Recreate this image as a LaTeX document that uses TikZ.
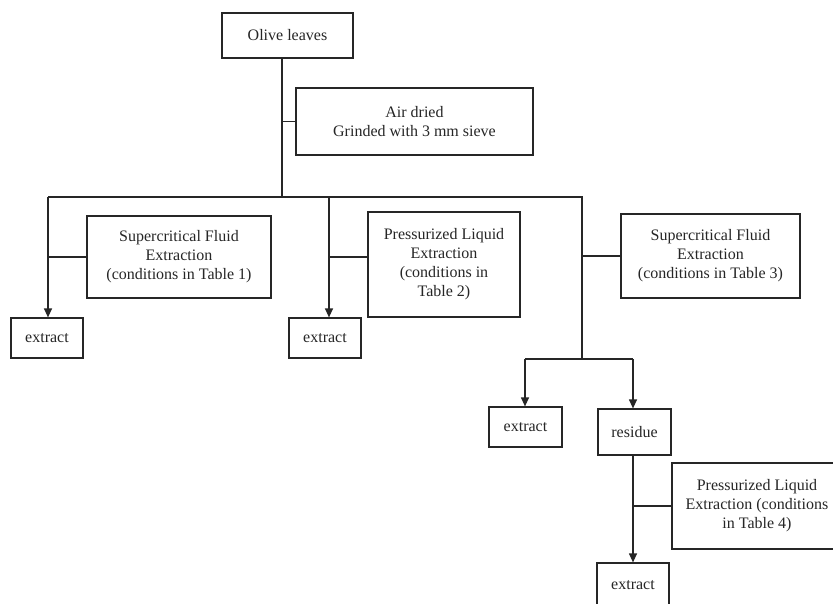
\documentclass[tikz,border=0pt]{standalone}
\usepackage{fontspec}
\setmainfont{Liberation Serif}
\usetikzlibrary{arrows.meta}
\begin{document}
\begin{tikzpicture}[x=1pt,y=-1pt,
  line width=1.2pt,
  lnk/.style={draw=black!85},
  box/.style={draw=black!85,line width=1.2pt,rectangle,inner sep=0pt,align=center,
    font=\fontsize{16}{19}\selectfont,text=black!85},
  arr/.style={lnk,-{Triangle[width=8pt,length=9pt]}}]
\useasboundingbox (0,0) rectangle (833,604);
\clip (0,0) rectangle (833,604);
\fill[white] (0,0) rectangle (833,604);
\node[box,minimum width=131pt,minimum height=45pt] (olive) at (287.5,35.5) {Olive leaves};
\node[box,minimum width=237pt,minimum height=67pt] (air) at (414.5,121.5) {Air dried\\Grinded with 3 mm sieve};
\node[box,minimum width=184pt,minimum height=82pt] (sfe1) at (179,257) {Supercritical Fluid\\Extraction\\(conditions in Table 1)};
\node[box,minimum width=72pt,minimum height=40pt] (ex1) at (47,338) {extract};
\node[box,minimum width=152pt,minimum height=105pt] (ple2) at (444,264.5) {Pressurized Liquid\\Extraction\\(conditions in\\Table 2)};
\node[box,minimum width=72pt,minimum height=40pt] (ex2) at (325,338) {extract};
\node[box,minimum width=179pt,minimum height=84pt] (sfe3) at (710.5,256) {Supercritical Fluid\\Extraction\\(conditions in Table 3)};
\node[box,minimum width=73pt,minimum height=40pt] (ex3) at (525.5,427) {extract};
\node[box,minimum width=73pt,minimum height=46pt] (res) at (634.5,432) {residue};
\node[box,minimum width=170pt,minimum height=86pt] (ple4) at (757,506) {Pressurized Liquid\\Extraction (conditions\\in Table 4)};
\node[box,minimum width=72pt,minimum height=44pt] (ex4) at (633,585) {extract};
% junctions
\coordinate (j0) at (282,197);
\coordinate (jl) at (48,197);
\coordinate (jm) at (329,197);
\coordinate (jr) at (582,197);
\coordinate (jb) at (582,359);
\coordinate (jbl) at (525,359);
\coordinate (jbr) at (633,359);
\draw[lnk] (olive.south -| j0) -- (j0);
\draw[lnk] (air.west) -- (air.west -| j0);
\draw[lnk] (jl) -- (jr) -- (jb);
\draw[arr] (jl) -- (ex1.north -| jl);
\draw[arr] (jm) -- (ex2.north -| jm);
\draw[lnk] (sfe1.west) -- (sfe1.west -| jl);
\draw[lnk] (ple2.west |- sfe1.west) -- (sfe1.west -| jm);
\draw[lnk] (sfe3.west) -- (sfe3.west -| jr);
\draw[lnk] (jbl) -- (jbr);
\draw[arr] (jbl) -- (ex3.north -| jbl);
\draw[arr] (jbr) -- (res.north -| jbr);
\draw[arr] (res.south -| jbr) -- (ex4.north -| jbr);
\draw[lnk] (ple4.west) -- (ple4.west -| jbr);
\end{tikzpicture}
\end{document}
